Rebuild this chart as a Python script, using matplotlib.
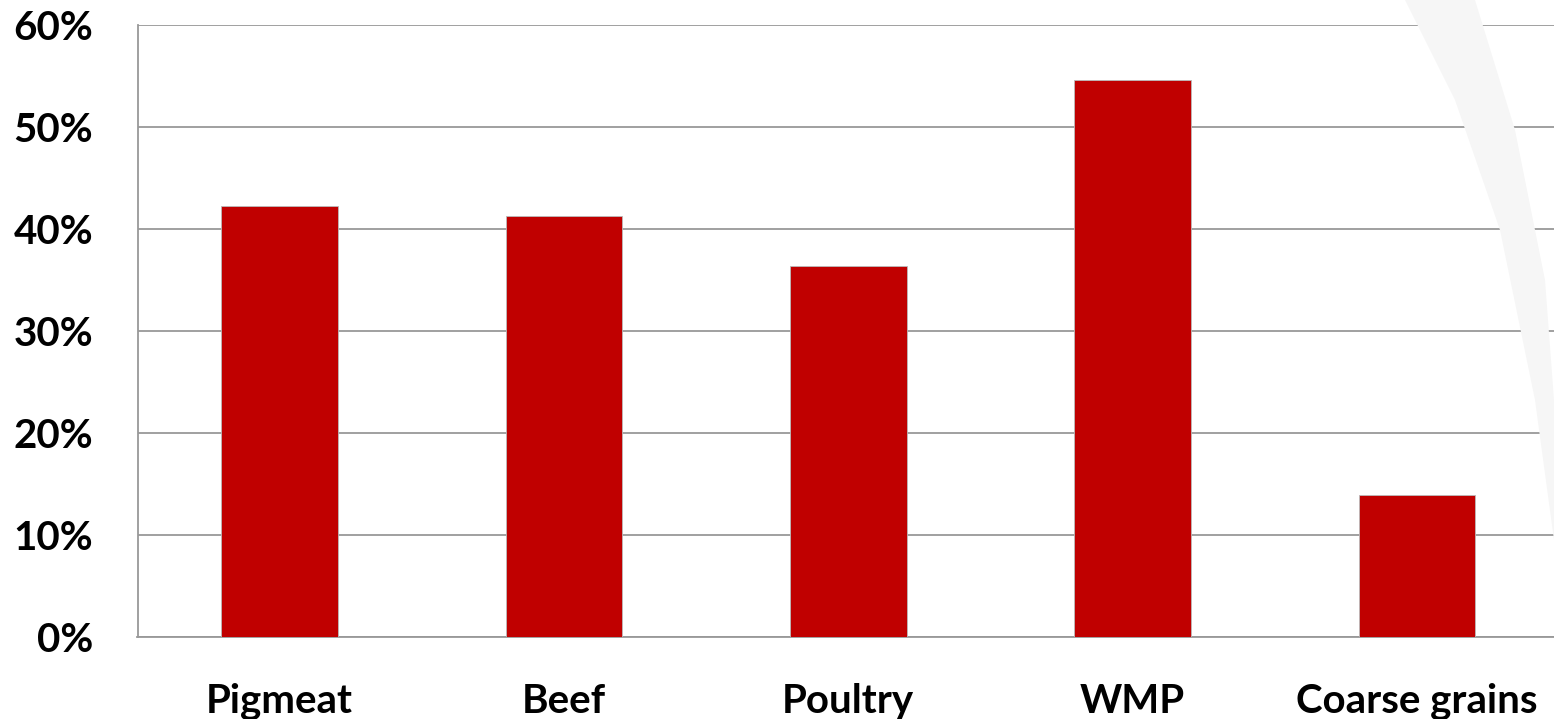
import matplotlib
matplotlib.use('Agg')
import matplotlib.pyplot as plt
from matplotlib.patches import Polygon
from matplotlib.ticker import FuncFormatter

# data
categories = ['Pigmeat', 'Beef', 'Poultry', 'WMP', 'Coarse grains']
shares = [42.3, 41.3, 36.4, 54.6, 13.9]
yticks = [0, 10, 20, 30, 40, 50, 60]

plt.rcParams['font.family'] = ['Lato', 'DejaVu Sans']

fig = plt.figure(figsize=(15.54, 7.19), dpi=100)

# faint background swoosh on the right
pts = [(1405, 0), (1475, 0), (1515, 130), (1545, 280), (1554, 400), (1554, 540),
       (1535, 400), (1500, 230), (1455, 100)]
swoosh = Polygon([(px/1554, 1 - py/719) for px, py in pts],
                 closed=True, transform=fig.transFigure, facecolor='#f6f6f6',
                 edgecolor='none', zorder=0)
fig.patches.append(swoosh)

ax = fig.add_axes([137.5/1554, 1 - 637/719, (1559 - 137.5)/1554, (637 - 25)/719])
ax.set_facecolor('none')

x = range(len(categories))
ax.bar(x, shares, width=0.41, color='#C00000', edgecolor='#bbbbbb', linewidth=0.6, zorder=3)

ax.set_xlim(-0.5, len(categories) - 0.5)
ax.set_ylim(0, 60)
ax.set_yticks(yticks)
ax.yaxis.set_major_formatter(FuncFormatter(lambda v, p: '%d%%' % v))
ax.set_xticks(list(x))
ax.set_xticklabels(categories)

ax.grid(axis='y', color='#999999', linewidth=1.3, zorder=1)
ax.set_axisbelow(True)
for s in ['top', 'right']:
    ax.spines[s].set_visible(False)
for s in ['left', 'bottom']:
    ax.spines[s].set_color('#999999')
    ax.spines[s].set_linewidth(1.3)

ax.tick_params(axis='both', length=0, labelsize=29, labelcolor='black')
ax.tick_params(axis='y', pad=32)
ax.tick_params(axis='x', pad=33)
for lab in ax.get_xticklabels() + ax.get_yticklabels():
    lab.set_fontweight('bold')

fig.savefig('out.png', dpi=100)
